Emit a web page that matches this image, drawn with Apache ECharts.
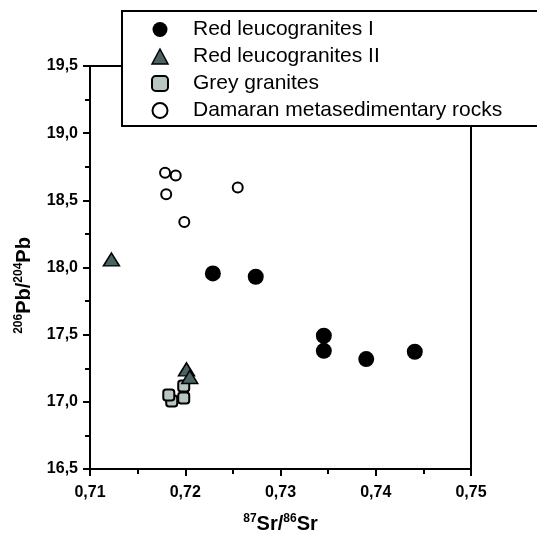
<!DOCTYPE html>
<html>
<head>
<meta charset="utf-8">
<script src="https://cdn.jsdelivr.net/npm/echarts@6/dist/echarts.min.js"></script>
<style>
html,body{margin:0;padding:0;background:#fff;}
#main{width:537px;height:535px;}
</style>
</head>
<body>
<div id="main"></div>
<script>
// Series data: [87Sr/86Sr, 206Pb/204Pb]
const redLeucogranitesI = [
  [0.7229, 17.956], [0.7274, 17.931], [0.73455, 17.492],
  [0.73455, 17.380], [0.7390, 17.318], [0.7441, 17.373]
];
const redLeucogranitesII = [
  [0.71225, 18.06], [0.72013, 17.242], [0.72047, 17.185]
];
const greyGranites = [
  [0.71858, 17.006], [0.71827, 17.051], [0.71984, 17.118], [0.71984, 17.028]
];
const damaranRocks = [
  [0.71788, 18.705], [0.7190, 18.685], [0.7180, 18.546],
  [0.7199, 18.338], [0.72551, 18.596]
];
const seriesNames = ['Red leucogranites I', 'Red leucogranites II', 'Grey granites', 'Damaran metasedimentary rocks'];
const xTicks = [0.71, 0.72, 0.73, 0.74, 0.75];
const yTicks = [16.5, 17.0, 17.5, 18.0, 18.5, 19.0, 19.5];

const FONT = '"Liberation Sans", Arial, sans-serif';
const chart = echarts.init(document.getElementById('main'), null, {renderer: 'canvas'});
const fmtComma = (v, d) => v.toFixed(d).replace('.', ',');

chart.setOption({
  animation: false,
  backgroundColor: '#fff',
  grid: {left: 90, top: 66, right: 66, bottom: 66, containLabel: false, outerBoundsMode: 'none',
    show: true, borderColor: '#000', borderWidth: 2, backgroundColor: 'transparent'},
  xAxis: {
    type: 'value', min: xTicks[0], max: xTicks[xTicks.length - 1], interval: 0.01,
    axisLine: {show: true, onZero: false, lineStyle: {color: '#000', width: 2}},
    axisTick: {show: true, inside: false, length: 7, lineStyle: {color: '#000', width: 2}},
    minorTick: {show: true, splitNumber: 2, length: 5, lineStyle: {color: '#000', width: 2}},
    splitLine: {show: false},
    axisLabel: {margin: 16, color: '#000', fontFamily: FONT, fontWeight: 'bold', fontSize: 16,
      formatter: v => fmtComma(v, 2)},
    name: '{sup|87}{b|Sr/}{sup|86}{b|Sr}',
    nameLocation: 'middle', nameGap: 44,
    nameTextStyle: {rich: {
      b: {fontFamily: FONT, fontWeight: 'bold', fontSize: 20, color: '#000'},
      sup: {fontFamily: FONT, fontWeight: 'bold', fontSize: 12, color: '#000', padding: [0, 0, 10, 0]}
    }}
  },
  yAxis: {
    type: 'value', min: yTicks[0], max: yTicks[yTicks.length - 1], interval: 0.5,
    axisLine: {show: true, onZero: false, lineStyle: {color: '#000', width: 2}},
    axisTick: {show: true, inside: false, length: 7, lineStyle: {color: '#000', width: 2}},
    minorTick: {show: true, splitNumber: 2, length: 5, lineStyle: {color: '#000', width: 2}},
    splitLine: {show: false},
    axisLabel: {margin: 12, color: '#000', fontFamily: FONT, fontWeight: 'bold', fontSize: 16,
      formatter: v => fmtComma(v, 1)},
    name: '{sup|206}{b|Pb/}{sup|204}{b|Pb}',
    nameLocation: 'middle', nameGap: 55,
    nameTextStyle: {padding: [0, 36, 0, 0], rich: {
      b: {fontFamily: FONT, fontWeight: 'bold', fontSize: 20, color: '#000'},
      sup: {fontFamily: FONT, fontWeight: 'bold', fontSize: 12, color: '#000', padding: [0, 0, 10, 0]}
    }}
  },
  legend: {
    left: 122, top: 11, orient: 'vertical',
    backgroundColor: '#fff', borderColor: '#000', borderWidth: 2, borderRadius: 0,
    padding: [8, 40, 5, 29],
    itemGap: 6, itemWidth: 16, itemHeight: 15,
    textStyle: {fontFamily: FONT, fontSize: 21, lineHeight: 21, color: '#000', padding: [0, 0, 0, 20]},
    z: 10,
    data: [
      {name: seriesNames[0], icon: 'circle', itemStyle: {color: '#000', borderWidth: 0}},
      {name: seriesNames[1], icon: 'triangle', itemStyle: {color: '#4a6464', borderColor: '#000', borderWidth: 1.5}},
      {name: seriesNames[2], icon: 'roundRect', itemStyle: {color: '#b7c6c2', borderColor: '#000', borderWidth: 2}},
      {name: seriesNames[3], icon: 'circle', itemStyle: {color: '#fff', borderColor: '#000', borderWidth: 2}}
    ]
  },
  series: [
    {name: seriesNames[2], type: 'scatter', data: greyGranites, symbol: 'roundRect', symbolSize: 11,
      itemStyle: {color: '#b7c6c2', borderColor: '#000', borderWidth: 2, opacity: 1}},
    {name: seriesNames[1], type: 'scatter', data: redLeucogranitesII, symbol: 'triangle', symbolSize: [16, 13],
      itemStyle: {color: '#4a6464', borderColor: '#000', borderWidth: 1.5, opacity: 1}},
    {name: seriesNames[0], type: 'scatter', data: redLeucogranitesI, symbol: 'circle', symbolSize: 16,
      itemStyle: {color: '#000', opacity: 1}},
    {name: seriesNames[3], type: 'scatter', data: damaranRocks, symbol: 'circle', symbolSize: 10,
      itemStyle: {color: '#fff', borderColor: '#000', borderWidth: 2, opacity: 1}}
  ]
});
</script>
</body>
</html>
